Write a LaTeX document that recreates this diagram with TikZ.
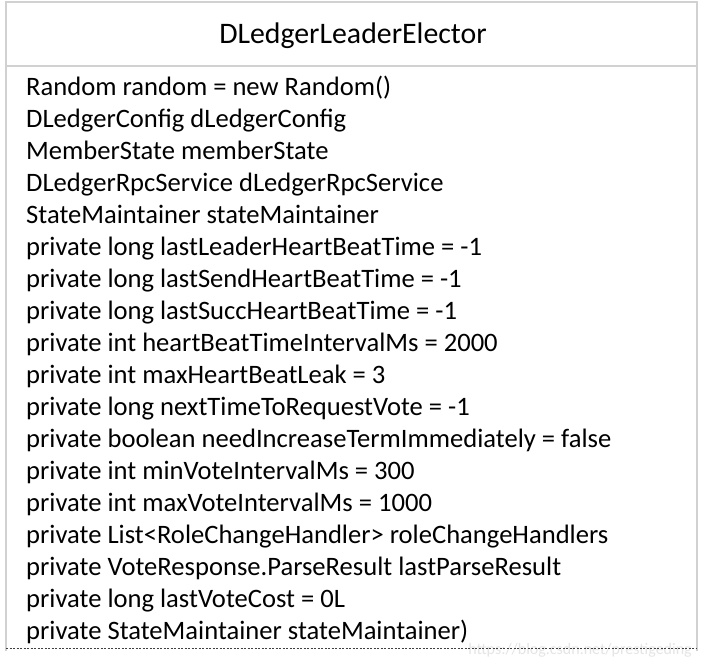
\documentclass[tikz,border=0pt]{standalone}
\usepackage{fontspec}
\setmainfont{Carlito}
\begin{document}
\begin{tikzpicture}[x=1pt,y=-1pt,
  boxline/.style={draw=black!18,line width=2pt},
  field/.style={anchor=base west,inner sep=0pt,font=\fontsize{26.6}{30}\selectfont},
  title/.style={anchor=base,inner sep=0pt,font=\fontsize{29.8}{34}\selectfont}]
\useasboundingbox[fill=white] (0,0) rectangle (705,664);
\draw[boxline] (6,651) -- (6,2) -- (697,2) -- (697,651);
\draw[boxline] (6,66) -- (697,66);
\node[title] (t) at (353,43) {DLedgerLeaderElector};
\foreach \i/\s in {0/{Random random = new Random()},
 1/{DLedgerConfig dLedgerConfig},
 2/{MemberState memberState},
 3/{DLedgerRpcService dLedgerRpcService},
 4/{StateMaintainer stateMaintainer},
 5/{private long lastLeaderHeartBeatTime = -1},
 6/{private long lastSendHeartBeatTime = -1},
 7/{private long lastSuccHeartBeatTime = -1},
 8/{private int heartBeatTimeIntervalMs = 2000},
 9/{private int maxHeartBeatLeak = 3},
 10/{private long nextTimeToRequestVote = -1},
 11/{private boolean needIncreaseTermImmediately = false},
 12/{private int minVoteIntervalMs = 300},
 13/{private int maxVoteIntervalMs = 1000},
 14/{private List<RoleChangeHandler> roleChangeHandlers},
 15/{private VoteResponse.ParseResult lastParseResult},
 16/{private long lastVoteCost = 0L},
 17/{private StateMaintainer stateMaintainer)}}
  \node[field] (f\i) at (26,95+32*\i) {\s};
\node[anchor=base east,inner sep=0pt,text=black!10,font=\fontsize{16}{18}\selectfont] (wm) at (692,654) {https://blog.csdn.net/prestigeding};
\draw[dashed,dash pattern=on 2pt off 1.5pt,line width=0.9pt,black!75] (6,648) -- (697,648);
\end{tikzpicture}
\end{document}
